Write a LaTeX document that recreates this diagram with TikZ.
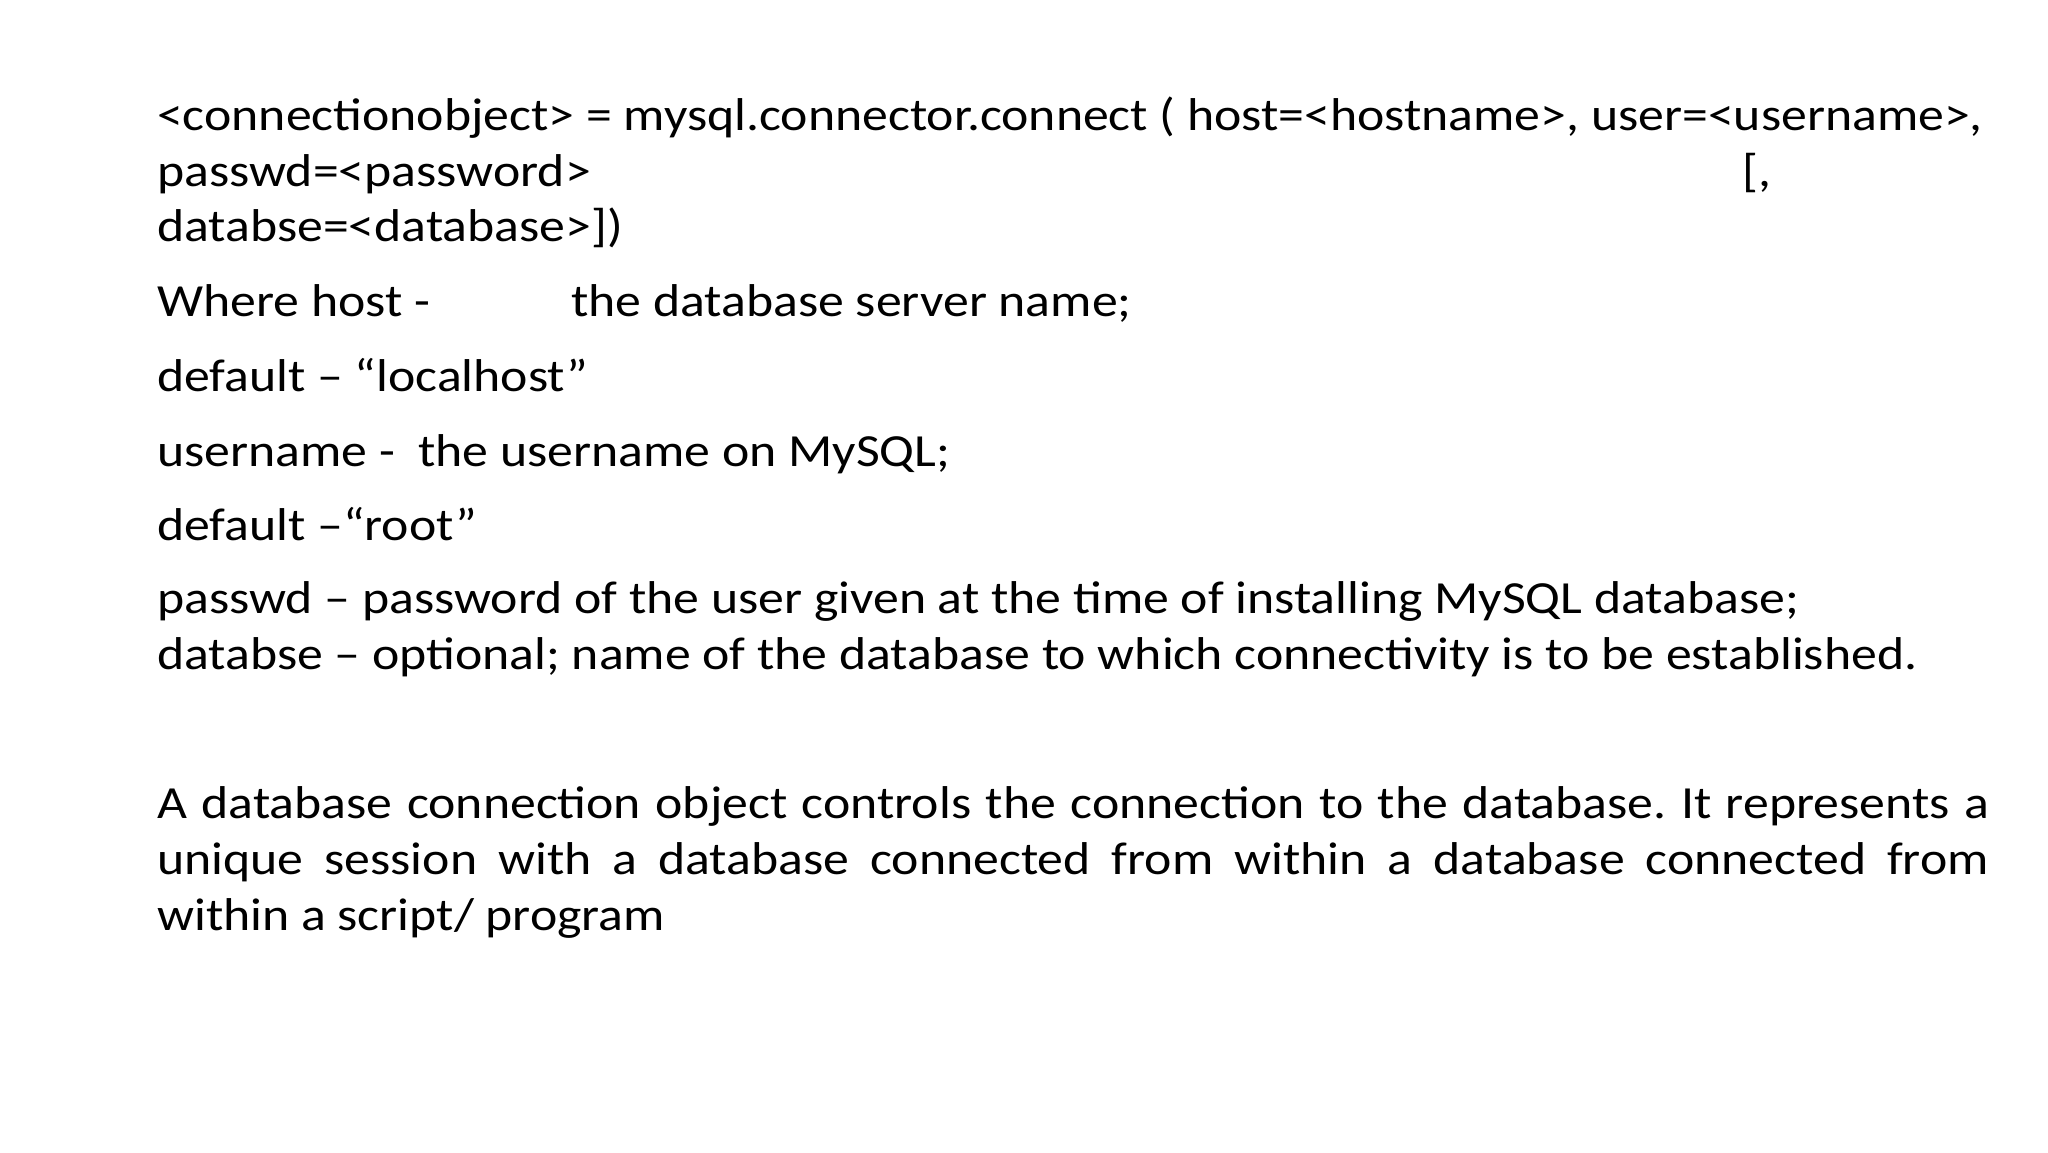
\documentclass[tikz,border=0pt]{standalone}
\usepackage{fontspec}
\setmainfont{Carlito}[FakeStretch=1.125]
\frenchspacing
\begin{document}
\begin{tikzpicture}[x=1pt,y=1pt,
  txt/.style={anchor=base west, inner sep=0pt, font=\fontsize{46}{55}\selectfont}]
\useasboundingbox (0,0) rectangle (2048,1152);
\fill[white] (0,0) rectangle (2048,1152);
\node[txt] (l1) at (157,1021) {<connectionobject> = mysql.connector.connect ( host=<hostname>, user=<username>,};
\node[txt] (l2) at (157,965.5) {passwd=<password>};
\node[txt] (l2b) at (1742,965.5) {[,};
\node[txt] (l3) at (157,910) {databse=<database>])};
\node[txt] (l4) at (157,835) {Where host -};
\node[txt] (l4b) at (571,835) {the database server name;};
\node[txt] (l5) at (157,760.5) {default – “localhost”};
\node[txt] (l6) at (157,685.5) {username -\ \ the username on MySQL;};
\node[txt] (l7) at (157,611.5) {default –“root”};
\node[txt] (l8) at (157,538) {passwd – password of the user given at the time of installing MySQL database;};
\node[txt] (l9) at (157,482.5) {databse – optional; name of the database to which connectivity is to be established.};
\node[txt] (p1) at (157,333) {\makebox[1832pt][s]{A database connection object controls the connection to the database. It represents a}};
\node[txt] (p2) at (157,277.5) {\makebox[1832pt][s]{unique session with a database connected from within a database connected from}};
\node[txt] (p3) at (157,222) {within a script/ program};
\end{tikzpicture}
\end{document}
